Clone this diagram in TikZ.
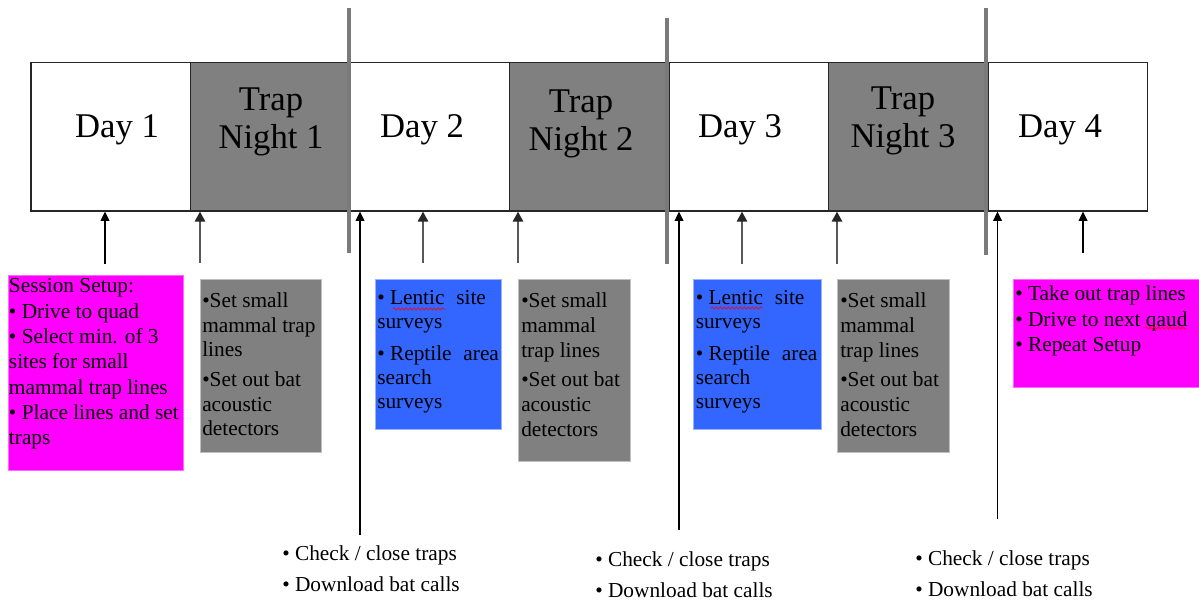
\documentclass[tikz,border=0pt]{standalone}
\usepackage{fontspec}
\setmainfont{Liberation Serif}
\usetikzlibrary{arrows.meta,decorations.pathmorphing}
\definecolor{cellgray}{HTML}{808080}
\definecolor{boxblue}{HTML}{3366FF}
\definecolor{boxmag}{HTML}{FF00FF}
\definecolor{sepgray}{HTML}{7A7A7A}
\definecolor{arrgray}{HTML}{585858}
\begin{document}
\begin{tikzpicture}[x=0.75pt,y=-0.75pt,
  cellbox/.style={draw=black!85, line width=1.2pt, minimum width=119.625pt, minimum height=111.2pt, inner sep=0pt, anchor=north west},
  daycell/.style={cellbox, fill=white},
  nightcell/.style={cellbox, fill=cellgray},
  biglabel/.style={font=\fontsize{26pt}{28.5pt}\selectfont, inner sep=0pt, align=center},
  notebox/.style={minimum width=#1, inner sep=0pt, anchor=north west, line width=0.4pt},
  txt/.style={font=\fontsize{16pt}{18.75pt}\selectfont, inner sep=0pt, align=left, anchor=north west},
  bottxt/.style={font=\fontsize{16pt}{23pt}\selectfont, inner sep=0pt, align=left, anchor=north west},
  sepline/.style={draw=sepgray, line width=2.4pt},
  blackarrow/.style={draw=black, line width=1.2pt, -{Triangle[length=7pt,width=6.5pt]}},
  grayarrow/.style={draw=arrgray, line width=2pt, -{Triangle[length=7.5pt,width=7.5pt,color=black!85]}},
  spell/.style={draw=red, line width=0.5pt, decorate, decoration={snake, amplitude=0.8pt, segment length=3pt}}
]
\useasboundingbox (0,0) rectangle (1199,602);

% timeline cells
\node[daycell]   (d1) at (30,61.7) {};
\node[nightcell] (n1) at (189.5,61.7) {};
\node[daycell]   (d2) at (349,61.7) {};
\node[nightcell] (n2) at (508.5,61.7) {};
\node[daycell]   (d3) at (668,61.7) {};
\node[nightcell] (n3) at (827.5,61.7) {};
\node[daycell]   (d4) at (987,61.7) {};

% cell labels
\node[biglabel, anchor=base] (ld1) at (117,138) {Day 1};
\node[biglabel, anchor=north] (ln1) at (271,88) {Trap\\Night 1};
\node[biglabel, anchor=base] (ld2) at (422,138) {Day 2};
\node[biglabel, anchor=north] (ln2) at (581,90) {Trap\\Night 2};
\node[biglabel, anchor=base] (ld3) at (740,138) {Day 3};
\node[biglabel, anchor=north] (ln3) at (903,87) {Trap\\Night 3};
\node[biglabel, anchor=base] (ld4) at (1060,138) {Day 4};

% separator lines
\coordinate (s1t) at (349,8);   \coordinate (s1b) at (349,253);
\coordinate (s2t) at (667,18);  \coordinate (s2b) at (667,264);
\coordinate (s3t) at (986,8);   \coordinate (s3b) at (986,255);
\draw[sepline] (s1t) -- (s1b);
\draw[sepline] (s2t) -- (s2b);
\draw[sepline] (s3t) -- (s3b);

% note boxes
\node[notebox=131.25pt, minimum height=146.25pt, fill=boxmag, draw=boxmag!60] (b1) at (8,275) {};
\node[notebox=90.75pt, minimum height=129.75pt, fill=cellgray, draw=black!25] (b2) at (199.5,279) {};
\node[notebox=94.5pt, minimum height=112.5pt, fill=boxblue, draw=boxblue!50] (b3) at (375,279) {};
\node[notebox=84pt, minimum height=136.5pt, fill=cellgray, draw=black!25] (b4) at (518,279) {};
\node[notebox=96pt, minimum height=112.5pt, fill=boxblue, draw=boxblue!50] (b5) at (693,279) {};
\node[notebox=84pt, minimum height=129.75pt, fill=cellgray, draw=black!25] (b6) at (837,279) {};
\node[notebox=140.25pt, minimum height=81pt, fill=boxmag, draw=boxmag!60] (b7) at (1013,279) {};

% note texts
\node[txt, font=\fontsize{16pt}{19pt}\selectfont] (t1) at (8.7,278.5) {Session Setup:\\• Drive to quad\\• Select min. of 3\\sites for small\\mammal trap lines\\• Place lines and set\\traps};
\node[txt, font=\fontsize{16pt}{18.4pt}\selectfont] (t2) at (202,292.5) {•Set small\\mammal trap\\lines\\[4pt]•Set out bat\\acoustic\\detectors};
\node[txt, font=\fontsize{16pt}{18pt}\selectfont] (t3) at (377,290.5) {• Lentic\hspace{0.3em} site\\surveys\\[5.5pt]• Reptile\hspace{0.3em} area\\search\\surveys};
\node[txt, font=\fontsize{16pt}{18.6pt}\selectfont] (t4) at (521,292.5) {•Set small\\mammal\\trap lines\\[3.5pt]•Set out bat\\acoustic\\detectors};
\node[txt, font=\fontsize{16pt}{18pt}\selectfont] (t5) at (695.5,290.5) {• Lentic\hspace{0.3em} site\\surveys\\[5.5pt]• Reptile\hspace{0.3em} area\\search\\surveys};
\node[txt, font=\fontsize{16pt}{18.6pt}\selectfont] (t6) at (840,292.5) {•Set small\\mammal\\trap lines\\[3.5pt]•Set out bat\\acoustic\\detectors};
\node[txt, font=\fontsize{16pt}{19.1pt}\selectfont] (t7) at (1015,285.5) {• Take out trap lines\\• Drive to next qaud\\• Repeat Setup};

% spell-check marks
\coordinate (w1a) at (393,309);  \coordinate (w1b) at (445,309);
\coordinate (w2a) at (711,308);  \coordinate (w2b) at (763,308);
\coordinate (w3a) at (1145,328); \coordinate (w3b) at (1186,328);
\draw[spell] (w1a) -- (w1b);
\draw[spell] (w2a) -- (w2b);
\draw[spell] (w3a) -- (w3b);

% bottom texts
\node[bottxt] (c1) at (282,545.5) {• Check / close traps\\• Download bat calls};
\node[bottxt] (c2) at (595,551.5) {• Check / close traps\\• Download bat calls};
\node[bottxt] (c3) at (915,550.5) {• Check / close traps\\• Download bat calls};

% arrows
\coordinate (a1) at (105,264);
\coordinate (a2) at (200,263);
\coordinate (a3) at (360,535);
\coordinate (a4) at (423,263);
\coordinate (a5) at (518,263);
\coordinate (a6) at (679,530);
\coordinate (a7) at (742,264);
\coordinate (a8) at (837,264);
\coordinate (a9) at (997.5,519);
\coordinate (a10) at (1083,253);
\draw[blackarrow] (a1) -- (a1 |- d1.south);
\draw[grayarrow]  (a2) -- (a2 |- n1.south);
\draw[blackarrow] (a3) -- (a3 |- d2.south);
\draw[grayarrow]  (a4) -- (a4 |- d2.south);
\draw[grayarrow]  (a5) -- (a5 |- n2.south);
\draw[blackarrow] (a6) -- (a6 |- d3.south);
\draw[grayarrow]  (a7) -- (a7 |- d3.south);
\draw[grayarrow]  (a8) -- (a8 |- n3.south);
\draw[blackarrow] (a9) -- (a9 |- d4.south);
\draw[blackarrow] (a10) -- (a10 |- d4.south);
\end{tikzpicture}
\end{document}
